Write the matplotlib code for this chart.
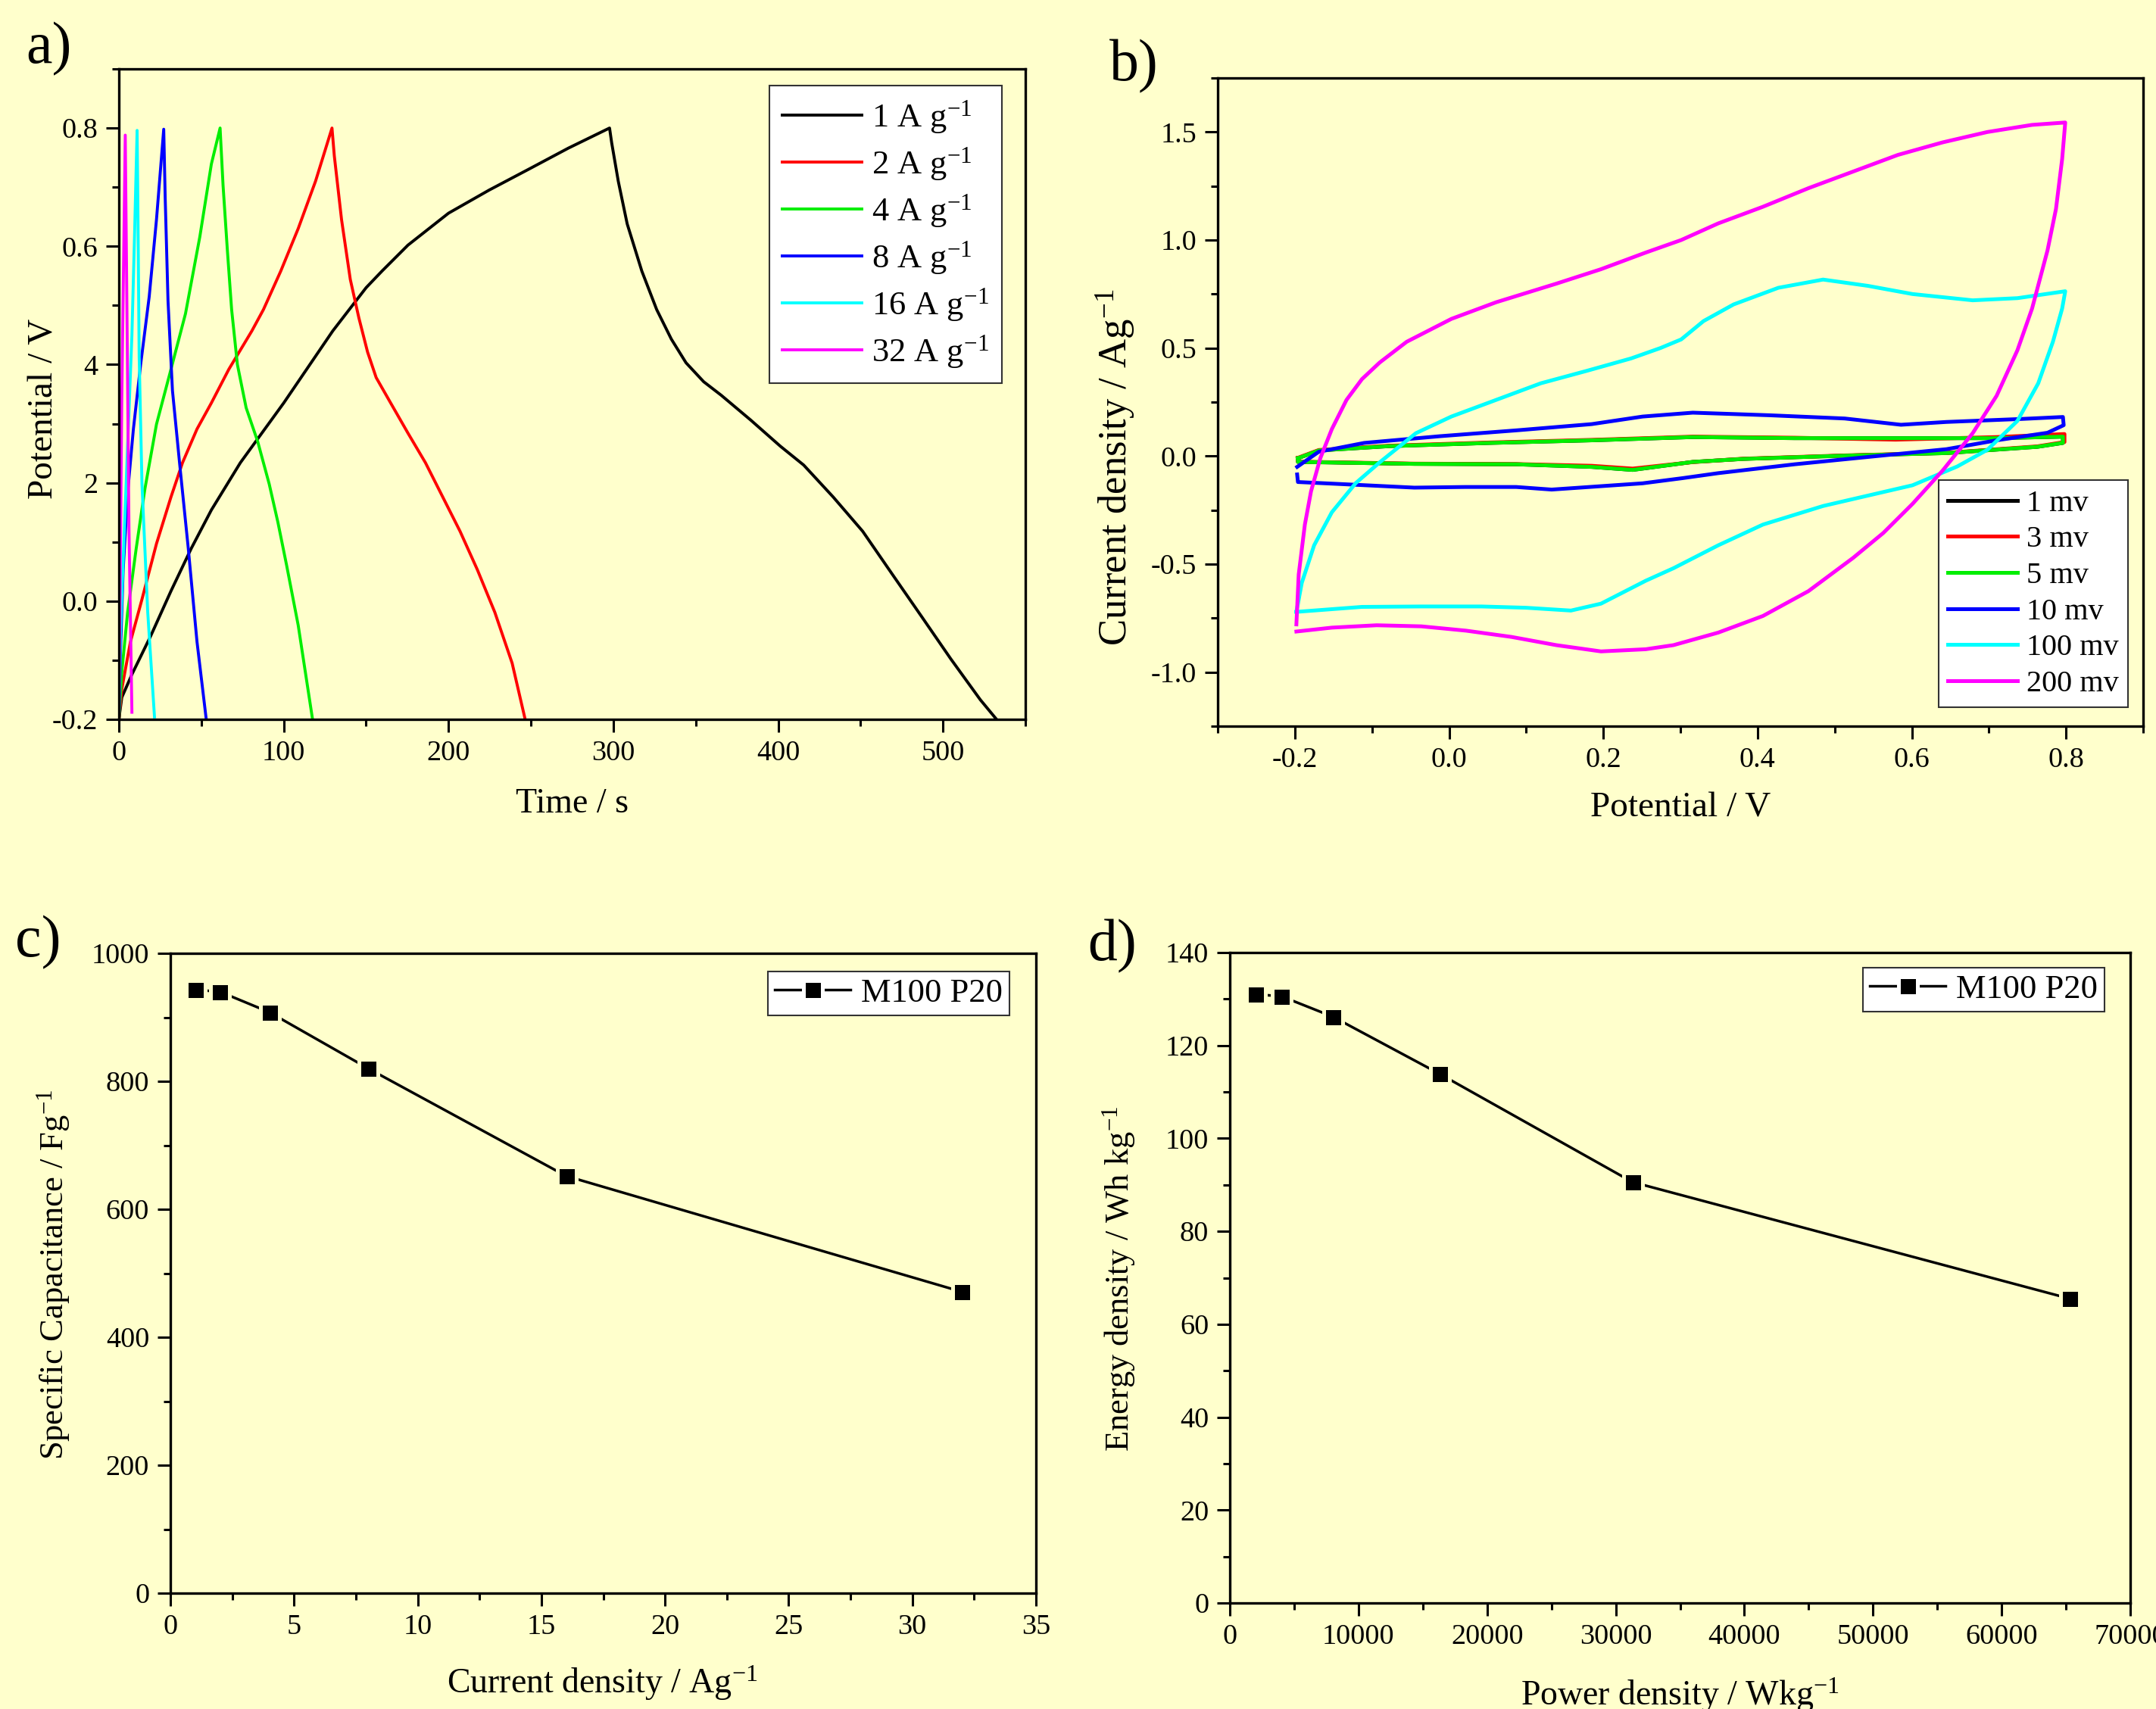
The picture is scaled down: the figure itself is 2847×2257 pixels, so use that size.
import matplotlib
matplotlib.use('Agg')
import matplotlib.pyplot as plt
from matplotlib.ticker import MultipleLocator, FixedLocator, FixedFormatter
from matplotlib.legend_handler import HandlerLine2D

plt.rcParams['font.family'] = ['Liberation Serif', 'DejaVu Serif']
plt.rcParams['mathtext.fontset'] = 'custom'
plt.rcParams['mathtext.rm'] = 'Liberation Serif'
plt.rcParams['mathtext.it'] = 'Liberation Serif:italic'
plt.rcParams['mathtext.bf'] = 'Liberation Serif:bold'

BG = '#FFFFCC'

# ---------------- Panel a: galvanostatic charge/discharge ----------------
gcd_labels = ['1 A g$^{-1}$', '2 A g$^{-1}$', '4 A g$^{-1}$', '8 A g$^{-1}$', '16 A g$^{-1}$', '32 A g$^{-1}$']
gcd_colors = ['#000000', '#FF0000', '#00EE00', '#0000FF', '#00FFFF', '#FF00FF']

t_1 = [0, 1.75, 7.9, 19.3, 31.6, 43.9, 56.1, 73.7, 100, 129.8, 150, 159.6, 175.4, 200, 224.6, 249.1, 272.7, 297.7,
       299, 303, 308.4, 317.3, 326.3, 335.2, 344.1, 354.8, 365.5, 383.4, 401.3, 415.5, 433.4, 451.3, 469.1, 487, 504.8, 522.7, 532.5]
v_1 = [-0.2, -0.163, -0.124, -0.059, 0.017, 0.089, 0.154, 0.234, 0.335, 0.457, 0.530, 0.558, 0.602, 0.656, 0.695, 0.731, 0.766, 0.8,
       0.775, 0.71, 0.638, 0.558, 0.493, 0.443, 0.403, 0.371, 0.348, 0.306, 0.262, 0.230, 0.176, 0.118, 0.046, -0.026, -0.098, -0.167, -0.2]

t_2 = [0, 1.75, 7.0, 14.0, 22.8, 31.6, 38.6, 47.4, 56.1, 66.7, 80.7, 87.7, 98.2, 108.8, 119.3, 129.3,
       130.7, 135.1, 140.4, 145.6, 150.9, 156.1, 164.9, 175.4, 186, 196.5, 207, 217.5, 228.1, 238.6, 246.5]
v_2 = [-0.2, -0.149, -0.069, 0.003, 0.097, 0.176, 0.234, 0.291, 0.335, 0.392, 0.457, 0.493, 0.558, 0.630, 0.710, 0.8,
       0.753, 0.645, 0.544, 0.479, 0.421, 0.378, 0.335, 0.284, 0.234, 0.176, 0.118, 0.053, -0.019, -0.105, -0.2]

t_4 = [0, 1.75, 5.3, 10.5, 15.8, 22.8, 31.6, 40.4, 49.1, 56.1, 61.4,
       63.2, 65.8, 68.4, 71.9, 77.2, 84.2, 91.2, 96.5, 101.8, 108.8, 117.5]
v_4 = [-0.2, -0.120, -0.019, 0.089, 0.190, 0.299, 0.392, 0.486, 0.616, 0.739, 0.8,
       0.703, 0.594, 0.493, 0.400, 0.327, 0.270, 0.198, 0.133, 0.060, -0.041, -0.2]

t_8 = [0, 0.9, 2.6, 5.3, 8.8, 13.2, 18.4, 22.8, 27.2,
       28.1, 29.8, 32.5, 36.8, 42.1, 47.4, 53.0]
v_8 = [-0.2, -0.091, 0.053, 0.183, 0.291, 0.400, 0.515, 0.645, 0.798,
       0.681, 0.508, 0.356, 0.234, 0.089, -0.069, -0.2]

t_16 = [0, 0.9, 4.4, 7.9, 9.6, 11.05, 11.4, 12.3, 14.0, 17.5, 21.6]
v_16 = [-0.2, -0.055, 0.198, 0.450, 0.630, 0.796, 0.703, 0.414, 0.198, -0.019, -0.196]

t_32 = [0, 1.75, 3.86, 4.9, 6.1, 7.9]
v_32 = [-0.2, 0.342, 0.788, 0.486, 0.125, -0.188]

gcd_t = [t_1, t_2, t_4, t_8, t_16, t_32]
gcd_v = [v_1, v_2, v_4, v_8, v_16, v_32]
a_yticks = [-0.2, 0.0, 0.2, 0.4, 0.6, 0.8]
a_yticklabels = ['-0.2', '0.0', '2', '4', '0.6', '0.8']

# ---------------- Panel b: cyclic voltammetry ----------------
cv_labels = ['1 mv', '3 mv', '5 mv', '10 mv', '100 mv', '200 mv']
cv_colors = ['#000000', '#FF0000', '#00EE00', '#0000FF', '#00FFFF', '#FF00FF']

e_1 = [-0.196, -0.169, -0.078, 0.054, 0.185, 0.316, 0.448, 0.579, 0.710, 0.796,
       0.796, 0.763, 0.645, 0.513, 0.382, 0.316, 0.238, 0.185, 0.087, -0.045, -0.196, -0.196]
j_1 = [-0.010, 0.026, 0.046, 0.061, 0.073, 0.088, 0.083, 0.083, 0.083, 0.090,
       0.061, 0.043, 0.014, 0.002, -0.013, -0.027, -0.064, -0.050, -0.038, -0.036, -0.027, -0.010]

e_3 = [-0.196, -0.169, -0.078, 0.054, 0.185, 0.316, 0.448, 0.579, 0.710, 0.798,
       0.798, 0.763, 0.645, 0.513, 0.382, 0.316, 0.238, 0.185, 0.087, -0.045, -0.196, -0.196]
j_3 = [-0.008, 0.028, 0.048, 0.063, 0.075, 0.090, 0.085, 0.076, 0.088, 0.102,
       0.065, 0.045, 0.015, 0.003, -0.012, -0.028, -0.058, -0.045, -0.037, -0.035, -0.026, -0.008]

e_5 = [-0.196, -0.169, -0.078, 0.054, 0.185, 0.316, 0.448, 0.579, 0.710, 0.796,
       0.796, 0.763, 0.645, 0.513, 0.382, 0.316, 0.238, 0.185, 0.087, -0.045, -0.196, -0.196]
j_5 = [-0.010, 0.026, 0.046, 0.061, 0.073, 0.088, 0.083, 0.083, 0.083, 0.090,
       0.061, 0.043, 0.014, 0.002, -0.013, -0.027, -0.064, -0.050, -0.038, -0.036, -0.027, -0.010]

e_10 = [-0.197, -0.169, -0.110, -0.012, 0.087, 0.185, 0.251, 0.316, 0.415, 0.513, 0.586, 0.645, 0.743, 0.796,
        0.797, 0.776, 0.710, 0.645, 0.546, 0.448, 0.349, 0.303, 0.251, 0.133, 0.087, 0.021, -0.045, -0.143, -0.196, -0.197]
j_10 = [-0.050, 0.020, 0.061, 0.092, 0.119, 0.148, 0.183, 0.201, 0.189, 0.174, 0.145, 0.158, 0.172, 0.181,
        0.143, 0.108, 0.073, 0.032, -0.003, -0.038, -0.079, -0.102, -0.126, -0.155, -0.143, -0.143, -0.146, -0.129, -0.120, -0.085]

e_100 = [-0.198, -0.191, -0.175, -0.152, -0.121, -0.090, -0.043, 0.003, 0.061, 0.119, 0.178, 0.236, 0.274, 0.301,
         0.330, 0.369, 0.427, 0.485, 0.543, 0.601, 0.679, 0.737, 0.799,
         0.795, 0.783, 0.764, 0.737, 0.698, 0.659, 0.601, 0.543, 0.485, 0.407, 0.349, 0.291, 0.255, 0.197, 0.158,
         0.100, 0.042, -0.036, -0.113, -0.198]
j_100 = [-0.721, -0.587, -0.413, -0.260, -0.125, -0.029, 0.106, 0.183, 0.260, 0.337, 0.394, 0.452, 0.500, 0.540,
         0.625, 0.702, 0.779, 0.817, 0.788, 0.750, 0.721, 0.731, 0.763,
         0.683, 0.529, 0.337, 0.163, 0.029, -0.048, -0.135, -0.183, -0.231, -0.317, -0.413, -0.519, -0.577, -0.683, -0.715,
         -0.702, -0.696, -0.696, -0.698, -0.721]

e_200 = [-0.198, -0.195, -0.187, -0.179, -0.167, -0.152, -0.133, -0.113, -0.090, -0.055, 0.003, 0.061, 0.139, 0.197, 0.255, 0.301,
         0.349, 0.407, 0.466, 0.524, 0.582, 0.640, 0.698, 0.756, 0.799,
         0.795, 0.787, 0.776, 0.756, 0.737, 0.710, 0.679, 0.640, 0.601, 0.563, 0.524, 0.466, 0.407, 0.349, 0.291,
         0.255, 0.197, 0.139, 0.081, 0.022, -0.036, -0.094, -0.152, -0.198]
j_200 = [-0.779, -0.548, -0.317, -0.163, -0.010, 0.125, 0.260, 0.356, 0.433, 0.529, 0.635, 0.712, 0.798, 0.865, 0.942, 1.000,
         1.077, 1.154, 1.240, 1.317, 1.394, 1.452, 1.500, 1.533, 1.544,
         1.375, 1.144, 0.952, 0.683, 0.490, 0.279, 0.106, -0.067, -0.221, -0.356, -0.471, -0.625, -0.740, -0.817, -0.875,
         -0.894, -0.904, -0.875, -0.837, -0.808, -0.788, -0.783, -0.794, -0.812]

cv_e = [e_1, e_3, e_5, e_10, e_100, e_200]
cv_j = [j_1, j_3, j_5, j_10, j_100, j_200]
b_yticklabels = ['-1.0', '-0.5', '0.0', '0.5', '1.0', '1.5']
b_xticklabels = ['-0.2', '0.0', '0.2', '0.4', '0.6', '0.8']

# ---------------- Panels c, d ----------------
current_density = [1, 2, 4, 8, 16, 32]
capacitance = [943, 940, 908, 820, 652, 471]
power_density = [2000, 4000, 8000, 16300, 31300, 65300]
energy_density = [131.0, 130.6, 126.2, 113.9, 90.6, 65.5]
series_name = 'M100 P20'

# ---------------- Figure ----------------
fig = plt.figure(figsize=(28.47, 22.57), dpi=100, facecolor=BG)
W, H = 2847.0, 2257.0


def add_axes(l, t, r, b):
    return fig.add_axes([l / W, 1 - b / H, (r - l) / W, (b - t) / H])


def style(ax):
    ax.set_facecolor(BG)
    for s in ax.spines.values():
        s.set_linewidth(2.4)
        s.set_color('black')
    ax.tick_params(which='both', direction='out', top=False, right=False, width=2.2,
                   labelsize=27.5, pad=8, colors='black')
    ax.tick_params(which='major', length=12)
    ax.tick_params(which='minor', length=6.5)


def legend_box(leg, lw=1.5):
    fr = leg.get_frame()
    fr.set_linewidth(lw)
    fr.set_edgecolor('#333333')
    fr.set_facecolor('white')
    fr.set_alpha(1)


# Panel a
axa = add_axes(157, 91, 1354, 950)
style(axa)
for t, v, c, lab in zip(gcd_t, gcd_v, gcd_colors, gcd_labels):
    axa.plot(t, v, color=c, lw=2.8, label=lab, solid_joinstyle='round')
axa.set_xlim(0, 550)
axa.set_ylim(-0.2, 0.9)
axa.xaxis.set_major_locator(MultipleLocator(100))
axa.xaxis.set_minor_locator(MultipleLocator(50))
axa.yaxis.set_major_locator(FixedLocator(a_yticks))
axa.yaxis.set_major_formatter(FixedFormatter(a_yticklabels))
axa.yaxis.set_minor_locator(MultipleLocator(0.1))
axa.set_xlabel('Time / s', fontsize=33)
axa.set_ylabel('Potential / V', fontsize=34)
axa.xaxis.set_label_coords(0.4996, -0.105)
axa.yaxis.set_label_coords(-0.065, 0.478)
lega = axa.legend(loc='upper right', bbox_to_anchor=(0.974, 0.974), borderaxespad=0, fontsize=32,
                  frameon=True, fancybox=False, handlelength=2.36, labelspacing=0.3, borderpad=0.38,
                  handletextpad=0.3)
legend_box(lega)

# Panel b
axb = add_axes(1608, 103, 2830, 959)
style(axb)
for e, j, c, lab in zip(cv_e, cv_j, cv_colors, cv_labels):
    axb.plot(e, j, color=c, lw=3.6, label=lab, solid_joinstyle='round')
axb.set_xlim(-0.3, 0.9)
axb.set_ylim(-1.25, 1.75)
axb.xaxis.set_major_locator(FixedLocator([-0.2, 0.0, 0.2, 0.4, 0.6, 0.8]))
axb.xaxis.set_major_formatter(FixedFormatter(b_xticklabels))
axb.xaxis.set_minor_locator(MultipleLocator(0.1))
axb.yaxis.set_major_locator(FixedLocator([-1.0, -0.5, 0.0, 0.5, 1.0, 1.5]))
axb.yaxis.set_major_formatter(FixedFormatter(b_yticklabels))
axb.yaxis.set_minor_locator(MultipleLocator(0.25))
axb.set_xlabel('Potential / V', fontsize=34)
axb.set_ylabel('Current density / Ag$^{-1}$', fontsize=38)
axb.xaxis.set_label_coords(0.5, -0.1016)
axb.yaxis.set_label_coords(-0.0867, 0.3995)
legb = axb.legend(loc='lower right', bbox_to_anchor=(0.9836, 0.029), borderaxespad=0, fontsize=29,
                  frameon=True, fancybox=False, handlelength=2.28, labelspacing=0.26, borderpad=0.3,
                  handletextpad=0.3)
legend_box(legb)


def marker_update(handle, orig):
    handle.update_from(orig)
    handle.set_markeredgecolor('white')


# Panel c
axc = add_axes(225, 1259, 1368, 2104)
style(axc)
lc, = axc.plot(current_density, capacitance, color='black', lw=2.5, marker='s', ms=18,
               mfc='black', mec=BG, mew=3.6, label=series_name)
axc.set_xlim(0, 35)
axc.set_ylim(0, 1000)
axc.xaxis.set_major_locator(MultipleLocator(5))
axc.xaxis.set_minor_locator(MultipleLocator(2.5))
axc.yaxis.set_major_locator(MultipleLocator(200))
axc.yaxis.set_minor_locator(MultipleLocator(100))
axc.set_xlabel('Current density / Ag$^{-1}$', fontsize=33)
axc.set_ylabel('Specific Capacitance / Fg$^{-1}$', fontsize=32)
axc.xaxis.set_label_coords(0.4987, -0.111)
axc.yaxis.set_label_coords(-0.1137, 0.498)
legc = axc.legend(loc='upper right', bbox_to_anchor=(0.969, 0.972), borderaxespad=0, fontsize=32,
                  frameon=True, fancybox=False, handlelength=2.25, borderpad=0.2, handletextpad=0.3,
                  handler_map={lc: HandlerLine2D(update_func=marker_update, numpoints=1)})
legend_box(legc)

# Panel d
axd = add_axes(1624, 1258, 2813, 2117)
style(axd)
ld, = axd.plot(power_density, energy_density, color='black', lw=2.5, marker='s', ms=18,
               mfc='black', mec=BG, mew=3.6, label=series_name)
axd.set_xlim(0, 70000)
axd.set_ylim(0, 140)
axd.xaxis.set_major_locator(MultipleLocator(10000))
axd.xaxis.set_minor_locator(MultipleLocator(5000))
axd.yaxis.set_major_locator(MultipleLocator(20))
axd.yaxis.set_minor_locator(MultipleLocator(10))
axd.set_xlabel('Power density / Wkg$^{-1}$', fontsize=33)
axd.set_ylabel('Energy density / Wh kg$^{-1}$', fontsize=32)
axd.xaxis.set_label_coords(0.4996, -0.112)
axd.yaxis.set_label_coords(-0.1026, 0.499)
legd = axd.legend(loc='upper right', bbox_to_anchor=(0.971, 0.977), borderaxespad=0, fontsize=32,
                  frameon=True, fancybox=False, handlelength=2.25, borderpad=0.2, handletextpad=0.3,
                  handler_map={ld: HandlerLine2D(update_func=marker_update, numpoints=1)})
legend_box(legd)

# Panel letters
for txt, x, y in [('a)', 34, 65), ('b)', 1465, 88), ('c)', 20, 1245), ('d)', 1436, 1250)]:
    fig.text(x / W, 1 - y / H, txt, fontsize=56, ha='left', va='center')

fig.savefig('out.png', dpi=100, facecolor=BG)
